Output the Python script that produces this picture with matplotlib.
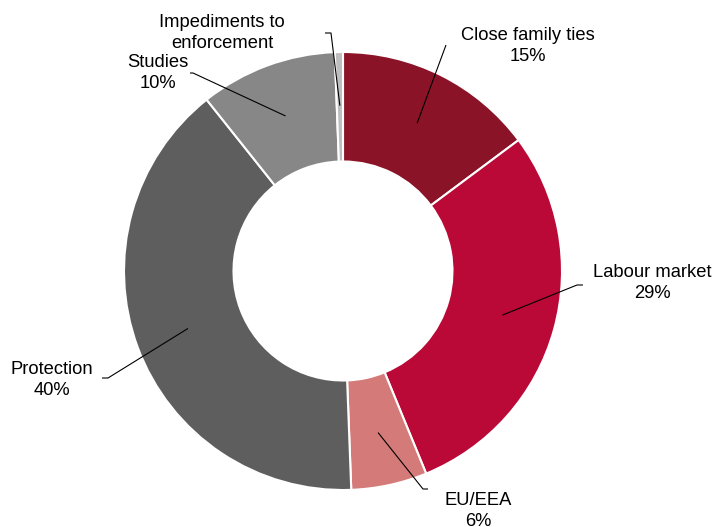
import numpy as np
import matplotlib
matplotlib.use("Agg")
import matplotlib.pyplot as plt

# Reasons for residence permits (share of total)
categories = ["Close family ties", "Labour market", "EU/EEA", "Protection",
              "Studies", "Impediments to\nenforcement"]
shares = [14.8, 29.0, 5.6, 39.9, 10.1, 0.6]
pct_labels = ["15%", "29%", "6%", "40%", "10%", None]
colors = ["#8B1327", "#BA0937", "#D47B79", "#5E5E5E", "#878787", "#BEBEBE"]

# label text centers and leader line elbows (pixel coords of the figure)
label_pos = [(528, 46), (652, 283), (478, 511), (52, 380), (158, 73), (222, 33)]
elbows = [(446, 45), (577, 285), (423, 489), (108, 378), (193, 73), (331, 33)]
ticks = [0, 6, 5, -6, -3, -6]

W, H = 715, 527
CX, CY, R = 343, 271, 219

def px(x, y):
    return (x - CX) / R, (CY - y) / R

plt.rcParams['font.family'] = ['Liberation Sans', 'DejaVu Sans']

fig = plt.figure(figsize=(W / 100, H / 100), dpi=100)
ax = fig.add_axes([0, 0, 1, 1])

wedges, _ = ax.pie(shares, colors=colors, startangle=90, counterclock=False,
                   radius=1.0, wedgeprops=dict(width=0.5, edgecolor="white", linewidth=1.5))

x0, y0 = px(0, H)
x1, y1 = px(W, 0)
ax.set_xlim(x0, x1)
ax.set_ylim(y0, y1)
ax.set_aspect("equal")
ax.axis("off")

cum = np.cumsum([0] + shares)
for i, name in enumerate(categories):
    mid = (cum[i] + cum[i + 1]) / 2 / 100 * 360
    theta = np.deg2rad(90 - mid)
    sx, sy = 0.755 * np.cos(theta), 0.755 * np.sin(theta)
    ex, ey = px(*elbows[i])
    tx = ex + ticks[i] / R
    ax.plot([sx, ex, tx], [sy, ey, ey], color="black", lw=0.8, solid_capstyle="butt")
    text = name if pct_labels[i] is None else name + "\n" + pct_labels[i]
    lx, ly = px(*label_pos[i])
    ax.text(lx, ly, text, ha="center", va="center", fontsize=13.2,
            linespacing=1.32)

fig.savefig("out.png", dpi=100)
